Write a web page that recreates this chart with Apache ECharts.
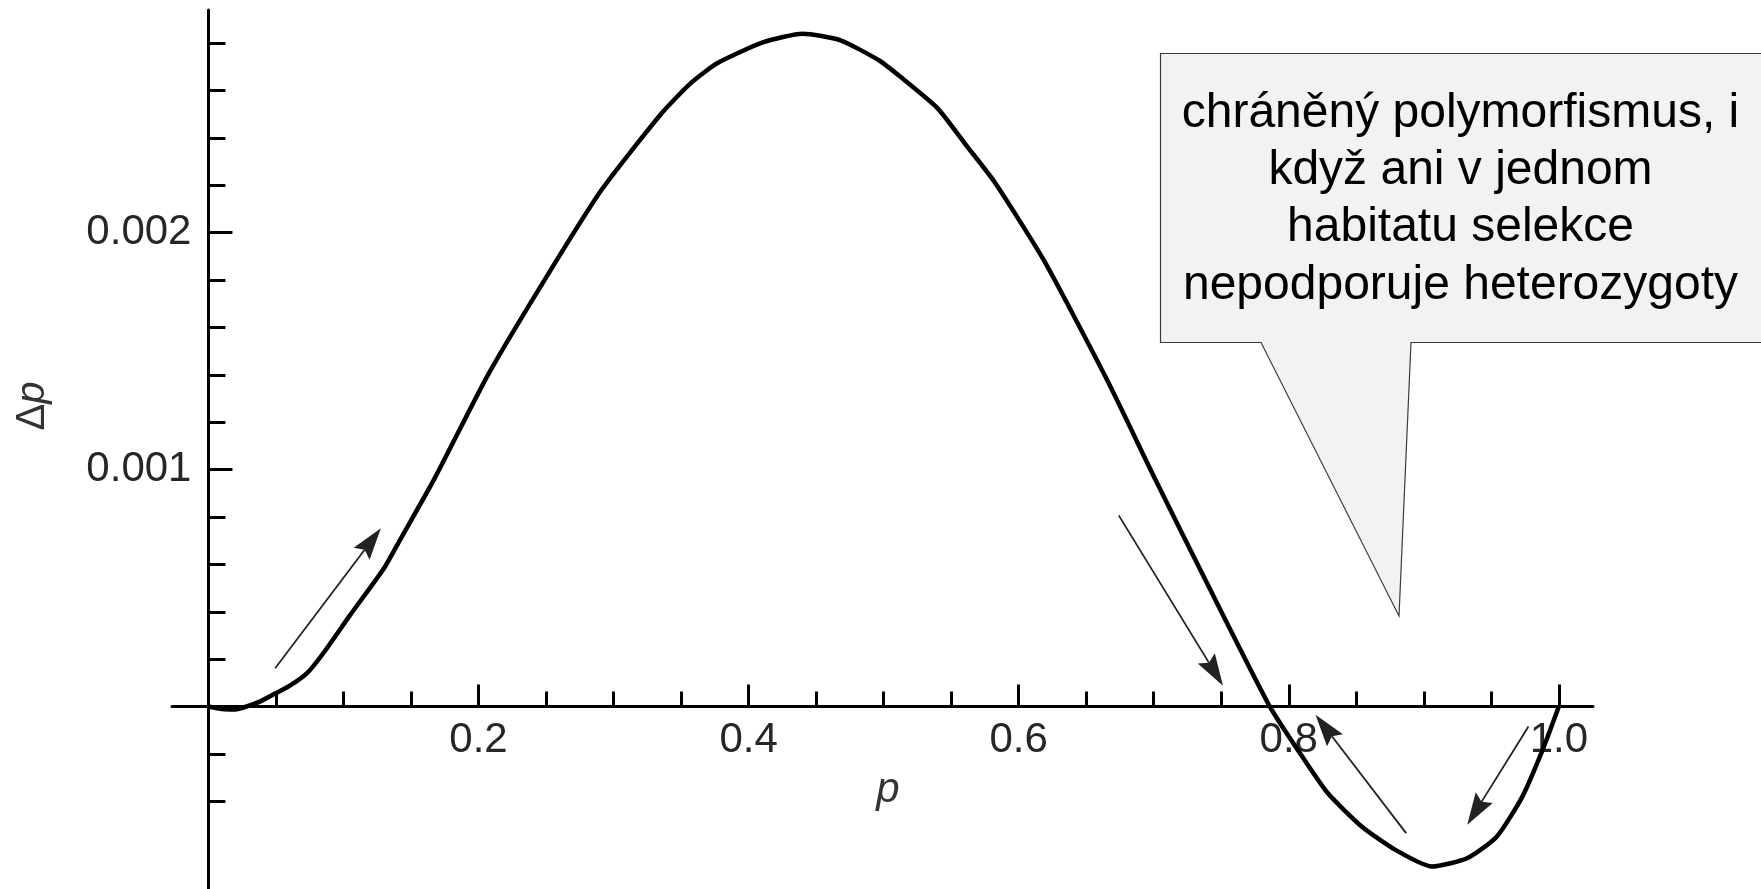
<!DOCTYPE html>
<html>
<head>
<meta charset="utf-8">
<script src="https://cdn.jsdelivr.net/npm/echarts@6/dist/echarts.min.js"></script>
<style>
  html, body { margin: 0; padding: 0; background: #fff; }
  #main { width: 1761px; height: 889px; }
</style>
</head>
<body>
<div id="main"></div>
<script>
// axis ranges (p on x, Δp on y)
const xMin = -0.027, xMax = 1.0253;
const yMin = -0.00077, yMax = 0.00294;
const xMajorTicks = [0.2, 0.4, 0.6, 0.8, 1.0];
const yMajorTicks = [0.001, 0.002];
const yMinorTicks = [-0.0004, -0.0002, 0.0002, 0.0004, 0.0006, 0.0008, 0.0012, 0.0014, 0.0016, 0.0018,
  0.0022, 0.0024, 0.0026, 0.0028];

// Δp as a function of p
const pValues = [0, 0.01, 0.02, 0.028, 0.038, 0.049, 0.06, 0.073, 0.085, 0.105, 0.13, 0.142, 0.1675,
  0.207, 0.251, 0.291, 0.335, 0.357, 0.377, 0.411, 0.44, 0.468, 0.497, 0.512, 0.54, 0.561, 0.582,
  0.6185, 0.6655, 0.7013, 0.7383, 0.786, 0.81, 0.829, 0.854, 0.879, 0.906, 0.932, 0.954, 0.973, 0.988, 1.0];
const dpValues = [0, -0.00001, -0.000012, 0, 0.000021, 0.000054, 0.000087, 0.000141, 0.000225, 0.000387, 0.000584, 0.000705, 0.000963,
  0.0014, 0.00182, 0.00218, 0.0025, 0.00263, 0.002716, 0.002804, 0.00284, 0.002812, 0.002726, 0.00266, 0.002525, 0.00237, 0.002215,
  0.001885, 0.001378, 0.000957, 0.000534, 0, -0.000211, -0.000366, -0.000506, -0.000605, -0.000675, -0.00064, -0.000549, -0.00038, -0.000183, 0];

// direction arrows: [p tail, Δp tail, p tip, Δp tip]
const arrows = [
  [0.0494, 0.000162, 0.1277, 0.000753],
  [0.6741, 0.000807, 0.7513, 0.0000882],
  [0.8869, -0.000534, 0.8198, -0.000035],
  [0.9775, -0.0000844, 0.9322, -0.000499]
];

const calloutLines = [
  'chráněný polymorfismus, i',
  'když ani v jednom',
  'habitatu selekce',
  'nepodporuje heterozygoty'
];

const font = '"Liberation Sans", Arial, Helvetica, sans-serif';
const curve = pValues.map((p, i) => [p, dpValues[i]]);

// plot area in pixels
const gridLeft = 172, gridRight = 168, gridTop = 10, gridBottom = 0;
const W = 1761, H = 889;
const plotW = W - gridLeft - gridRight, plotH = H - gridTop - gridBottom;
// axes cross at (0, 0): shift the axes inward from the grid edges
const xAxisOffset = -(0 - yMin) / (yMax - yMin) * plotH;
const yAxisOffset = -(0 - xMin) / (xMax - xMin) * plotW;

const tickStyle = { color: '#000', width: 3 };

var myChart = echarts.init(document.getElementById('main'), null, { renderer: 'canvas' });

const option = {
  backgroundColor: '#ffffff',
  animation: false,
  grid: { left: gridLeft, right: gridRight, top: gridTop, bottom: gridBottom, outerBoundsMode: 'none', containLabel: false },
  xAxis: {
    type: 'value',
    min: xMin, max: xMax,
    minInterval: 0.2, maxInterval: 0.2,
    offset: xAxisOffset,
    splitLine: { show: false },
    axisLine: { onZero: false, lineStyle: tickStyle },
    axisTick: { inside: true, length: 22, customValues: xMajorTicks, lineStyle: tickStyle },
    minorTick: { show: true, splitNumber: 4, length: 15, lineStyle: tickStyle },
    axisLabel: {
      customValues: xMajorTicks,
      formatter: v => v.toFixed(1),
      margin: 13,
      color: '#262626',
      fontFamily: font,
      fontSize: 42
    }
  },
  yAxis: [
    {
      type: 'value',
      position: 'left',
      min: yMin, max: yMax,
      offset: yAxisOffset,
      splitLine: { show: false },
      axisLine: { onZero: false, lineStyle: tickStyle },
      axisTick: { inside: true, length: 24, customValues: yMajorTicks, lineStyle: tickStyle },
      axisLabel: {
        customValues: yMajorTicks,
        formatter: v => v.toFixed(3),
        margin: 17,
        color: '#262626',
        fontFamily: font,
        fontSize: 42
      }
    },
    {
      // short ticks only
      type: 'value',
      position: 'left',
      min: yMin, max: yMax,
      offset: yAxisOffset,
      splitLine: { show: false },
      axisLine: { show: false, onZero: false },
      axisTick: { inside: true, length: 17, customValues: yMinorTicks, lineStyle: tickStyle },
      axisLabel: { show: false }
    }
  ],
  series: [
    {
      type: 'line',
      data: curve,
      showSymbol: false,
      smooth: 0.2,
      lineStyle: { color: '#000', width: 4.5 }
    },
    {
      type: 'custom',
      data: arrows,
      encode: { x: [0, 2], y: [1, 3] },
      renderItem: (params, api) => {
        const a = api.coord([api.value(0), api.value(1)]);
        const b = api.coord([api.value(2), api.value(3)]);
        const dx = b[0] - a[0], dy = b[1] - a[1];
        const len = Math.hypot(dx, dy);
        const ux = dx / len, uy = dy / len;
        const nx = -uy, ny = ux;
        const hl = 32, hw = 10;
        const bx = b[0] - ux * hl, by = b[1] - uy * hl;
        return {
          type: 'group',
          children: [
            { type: 'line', shape: { x1: a[0], y1: a[1], x2: bx + ux * 5, y2: by + uy * 5 },
              style: { stroke: '#222', lineWidth: 1.8 } },
            { type: 'polygon',
              shape: { points: [[b[0], b[1]], [bx + nx * hw, by + ny * hw], [bx + ux * 5, by + uy * 5], [bx - nx * hw, by - ny * hw]] },
              style: { fill: '#222' } }
          ]
        };
      }
    }
  ],
  graphic: [
    // speech bubble
    {
      type: 'polygon',
      z: 10,
      shape: { points: [[1160.5, 53.5], [1770, 53.5], [1770, 342.5], [1411, 342.5], [1399, 616], [1261, 342.5], [1160.5, 342.5]] },
      style: { fill: '#f2f2f2', stroke: '#3a3a3a', lineWidth: 1.2 }
    },
    {
      type: 'text',
      z: 11,
      x: 1460.5, y: 199.5,
      style: {
        text: calloutLines.join('\n'),
        font: '48px ' + font,
        lineHeight: 57.4,
        align: 'center',
        verticalAlign: 'middle',
        fill: '#000'
      }
    },
    // axis names
    {
      type: 'text',
      x: 33, y: 406,
      rotation: Math.PI / 2,
      style: {
        text: '{d|Δ}{p|p}',
        align: 'center',
        verticalAlign: 'middle',
        rich: {
          d: { font: '40px ' + font, fill: '#333' },
          p: { font: 'italic 40px ' + font, fill: '#333' }
        }
      }
    },
    {
      type: 'text',
      x: 888, y: 790,
      style: { text: 'p', font: 'italic 42px ' + font, fill: '#333', align: 'center', verticalAlign: 'middle' }
    }
  ]
};

myChart.setOption(option);
</script>
</body>
</html>
